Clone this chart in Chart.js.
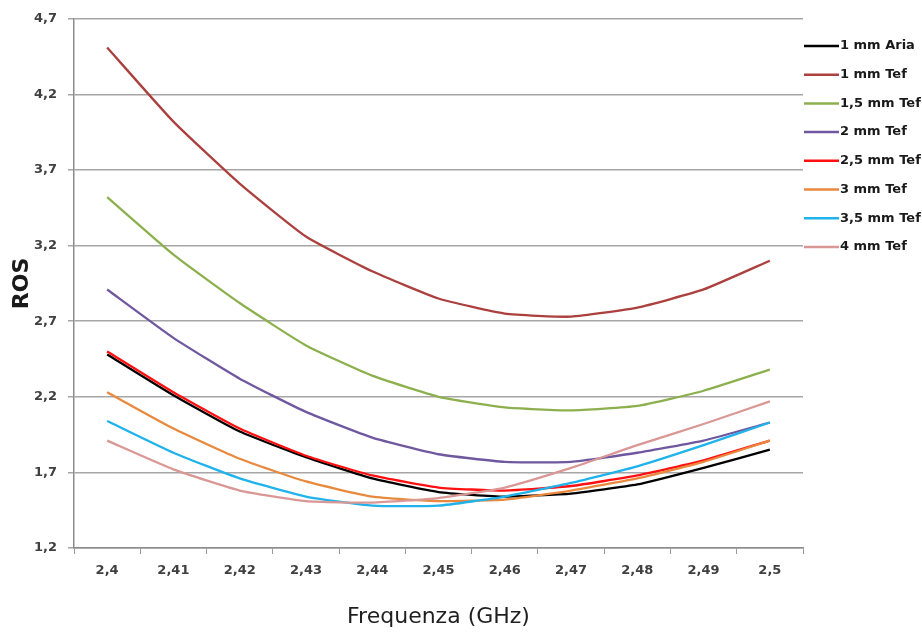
<!DOCTYPE html>
<html>
<head>
<meta charset="utf-8">
<script src="https://cdn.jsdelivr.net/npm/chart.js@4"></script>
<style>
  html, body { margin: 0; padding: 0; background: #fff; }
  #wrap { width: 922px; height: 634px; }
</style>
</head>
<body>
<div id="wrap"><canvas id="chart"></canvas></div>
<script>
// frequency points (GHz), written with a decimal comma as in the original
const frequencies = ["2,4", "2,41", "2,42", "2,43", "2,44", "2,45", "2,46", "2,47", "2,48", "2,49", "2,5"];

// ROS readings per configuration
const aria1 = [2.48, 2.21, 1.97, 1.80, 1.66, 1.57, 1.54, 1.56, 1.62, 1.73, 1.85];
const tef1 = [4.51, 4.02, 3.61, 3.26, 3.03, 2.85, 2.75, 2.73, 2.79, 2.91, 3.10];
const tef15 = [3.52, 3.14, 2.82, 2.54, 2.34, 2.20, 2.13, 2.11, 2.14, 2.24, 2.38];
const tef2 = [2.91, 2.59, 2.32, 2.10, 1.93, 1.82, 1.77, 1.77, 1.83, 1.91, 2.03];
const tef25 = [2.50, 2.23, 1.99, 1.81, 1.68, 1.60, 1.58, 1.61, 1.68, 1.78, 1.91];
const tef3 = [2.23, 1.99, 1.79, 1.64, 1.54, 1.51, 1.52, 1.58, 1.66, 1.77, 1.91];
const tef35 = [2.04, 1.83, 1.66, 1.54, 1.48, 1.48, 1.54, 1.63, 1.74, 1.88, 2.03];
const tef4 = [1.91, 1.72, 1.58, 1.51, 1.50, 1.53, 1.60, 1.73, 1.88, 2.02, 2.17];

const seriesLabels = ["1 mm Aria", "1 mm Tef", "1,5 mm Tef", "2 mm Tef", "2,5 mm Tef", "3 mm Tef", "3,5 mm Tef", "4 mm Tef"];
const seriesValues = [aria1, tef1, tef15, tef2, tef25, tef3, tef35, tef4];
const seriesColors = ["#000000", "#AB403E", "#8DB04E", "#6F58A0", "#FF1010", "#E8893E", "#20B2EA", "#D99896"];

const comma = (v) => v.toFixed(1).replace(".", ",");
const font = "'DejaVu Sans', sans-serif";

// legend drawn to the right of the plot, lines butted against the labels
const sideLegend = {
  id: "sideLegend",
  afterDraw(chart) {
    const { ctx, chartArea } = chart;
    const x0 = chartArea.right + 1;
    ctx.save();
    ctx.font = `bold 13px ${font}`;
    ctx.textBaseline = "middle";
    ctx.fillStyle = "#1a1a1a";
    chart.data.datasets.forEach((ds, i) => {
      const y = 46 + i * 28.7;
      ctx.strokeStyle = ds.borderColor;
      ctx.lineWidth = 2.5;
      ctx.beginPath();
      ctx.moveTo(x0, y);
      ctx.lineTo(x0 + 35, y);
      ctx.stroke();
      ctx.fillText(ds.label, x0 + 36, y);
    });
    ctx.restore();
  },
};

new Chart(document.getElementById("chart"), {
  type: "line",
  data: {
    labels: frequencies,
    datasets: seriesValues.map((data, i) => ({
      label: seriesLabels[i],
      data,
      borderColor: seriesColors[i],
      backgroundColor: seriesColors[i],
      borderWidth: 2.3,
      tension: 0.15,
      pointRadius: 0,
      fill: false,
      order: seriesValues.length - i,
    })),
  },
  options: {
    responsive: true,
    maintainAspectRatio: false,
    animation: false,
    layout: { padding: { top: 18, right: 119, bottom: 0, left: 0 } },
    plugins: {
      legend: { display: false },
      tooltip: { enabled: false },
    },
    scales: {
      x: {
        offset: true,
        grid: { offset: true, drawOnChartArea: false, drawTicks: true, tickLength: 6, color: "#999" },
        border: { color: "#8c8c8c", width: 1.5 },
        ticks: { color: "#404040", font: { family: font, size: 13, weight: "bold" }, padding: 9, maxRotation: 0 },
        title: {
          display: true,
          text: "Frequenza (GHz)",
          color: "#1f1f1f",
          font: { family: font, size: 22 },
          padding: { top: 16, bottom: 4 },
        },
      },
      y: {
        min: 1.2,
        max: 4.7,
        afterFit: (scale) => { scale.width = 74; },
        grid: { color: "#a6a6a6", lineWidth: 1.5, tickLength: 6 },
        border: { color: "#8c8c8c", width: 1.5 },
        ticks: {
          stepSize: 0.5,
          color: "#404040",
          font: { family: font, size: 13, weight: "bold" },
          padding: 11,
          callback: (v) => comma(v),
        },
        title: {
          display: true,
          text: "ROS",
          color: "#1a1a1a",
          font: { family: font, size: 22, weight: "bold" },
          padding: { top: 9, bottom: 2 },
        },
      },
    },
  },
  plugins: [sideLegend],
});
</script>
</body>
</html>
